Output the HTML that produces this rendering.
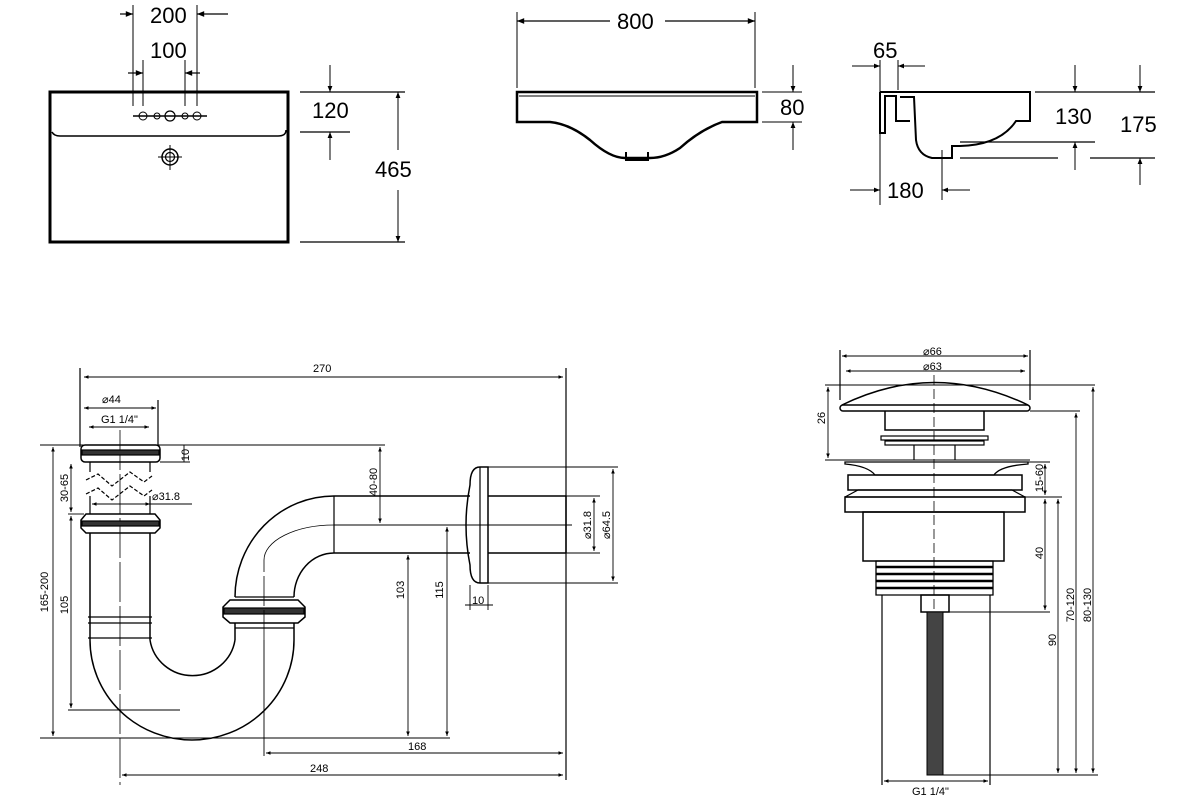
<!DOCTYPE html>
<html><head><meta charset="utf-8"><style>
html,body{margin:0;padding:0;background:#fff;}
svg{display:block;font-family:"Liberation Sans",sans-serif;}
</style></head><body>
<svg width="1200" height="800" viewBox="0 0 1200 800" xmlns="http://www.w3.org/2000/svg">
<defs>
<marker id="a" viewBox="0 0 10 10" refX="10" refY="5" markerWidth="8" markerHeight="6" orient="auto-start-reverse"><path d="M0,1 L10,5 L0,9 z" fill="#000"/></marker>
<marker id="s" viewBox="0 0 10 10" refX="10" refY="5" markerWidth="6" markerHeight="5" orient="auto-start-reverse"><path d="M0,1 L10,5 L0,9 z" fill="#000"/></marker>
</defs>
<!-- ===== TOP LEFT BASIN ===== -->
<g stroke="#000" fill="none">
<rect x="50" y="92" width="238" height="150" stroke-width="3"/>
<path d="M52,132 Q54,136 60,136 L278,136 Q286,136 286,130" stroke-width="1.5"/>
<line x1="133" y1="5" x2="133" y2="106" stroke-width="1"/>
<line x1="197" y1="5" x2="197" y2="106" stroke-width="1"/>
<line x1="143" y1="60" x2="143" y2="106" stroke-width="1"/>
<line x1="185" y1="60" x2="185" y2="106" stroke-width="1"/>
<line x1="120" y1="14" x2="133" y2="14" marker-end="url(#a)" stroke-width="1.2"/>
<line x1="228" y1="14" x2="197" y2="14" marker-end="url(#a)" stroke-width="1.2"/>
<line x1="128" y1="73" x2="143" y2="73" marker-end="url(#a)" stroke-width="1.2"/>
<line x1="200" y1="73" x2="185" y2="73" marker-end="url(#a)" stroke-width="1.2"/>
<line x1="133" y1="116" x2="207" y2="116" stroke-width="1.5"/>
<circle cx="170" cy="116" r="5" stroke-width="1.2"/>
<circle cx="143" cy="116" r="4" stroke-width="1"/><circle cx="157" cy="116" r="3" stroke-width="1"/>
<circle cx="185" cy="116" r="3" stroke-width="1"/><circle cx="197" cy="116" r="4" stroke-width="1"/>
<circle cx="170" cy="157" r="8" stroke-width="1.5"/><circle cx="170" cy="157" r="4.5" stroke-width="1.2"/>
<line x1="170" y1="145" x2="170" y2="170" stroke-width="1"/><line x1="158" y1="157" x2="182" y2="157" stroke-width="1"/>
<line x1="300" y1="92" x2="405" y2="92" stroke-width="1.2"/>
<line x1="300" y1="132" x2="350" y2="132" stroke-width="1.2"/>
<line x1="300" y1="242" x2="405" y2="242" stroke-width="1.2"/>
<line x1="330" y1="65" x2="330" y2="92" marker-end="url(#a)" stroke-width="1"/>
<line x1="330" y1="160" x2="330" y2="132" marker-end="url(#a)" stroke-width="1"/>
<line x1="398" y1="110" x2="398" y2="92" marker-end="url(#a)" stroke-width="1"/>
<line x1="398" y1="150" x2="398" y2="110" stroke-width="1"/>
<line x1="398" y1="190" x2="398" y2="242" marker-end="url(#a)" stroke-width="1"/>
</g>
<g font-size="22" fill="#000">
<text x="150" y="23">200</text><text x="150" y="58">100</text>
<text x="312" y="118">120</text><text x="375" y="177">465</text>
</g>
<!-- ===== TOP MIDDLE BASIN ===== -->
<g stroke="#000" fill="none">
<path d="M517,92 L757,92 L757,122 L722,122 Q700,130 680,148 Q665,158 650,158 L625,158 Q610,158 590,140 Q570,124 550,122 L517,122 Z" stroke-width="2.5"/>
<line x1="519" y1="96" x2="755" y2="96" stroke-width="1"/>
<path d="M626,152 L626,160 L648,160 L648,152" stroke-width="2"/>
<line x1="517" y1="12" x2="517" y2="88" stroke-width="1"/>
<line x1="755" y1="12" x2="755" y2="88" stroke-width="1"/>
<line x1="610" y1="21" x2="517" y2="21" marker-end="url(#a)" stroke-width="1.2"/>
<line x1="665" y1="21" x2="755" y2="21" marker-end="url(#a)" stroke-width="1.2"/>
<line x1="762" y1="92" x2="802" y2="92" stroke-width="1"/>
<line x1="762" y1="122" x2="802" y2="122" stroke-width="1"/>
<line x1="793" y1="65" x2="793" y2="92" marker-end="url(#a)" stroke-width="1"/>
<line x1="793" y1="150" x2="793" y2="122" marker-end="url(#a)" stroke-width="1"/>
</g>
<g font-size="22" fill="#000"><text x="617" y="29">800</text><text x="780" y="115">80</text></g>
<!-- ===== TOP RIGHT SECTION ===== -->
<g stroke="#000" fill="none">
<path d="M880,92 L1030,92 L1030,121 L1016,121 Q1000,145 960,146 L952,146 L952,158 L932,158 Q918,155 916,140 L914,97 L900,97" stroke-width="2"/>
<path d="M880,92 L880,133 L885,133 L885,96 L896,96 L896,121 L910,121" stroke-width="2"/>
<line x1="880" y1="60" x2="880" y2="205" stroke-width="1"/>
<line x1="898" y1="60" x2="898" y2="90" stroke-width="1"/>
<line x1="852" y1="66" x2="880" y2="66" marker-end="url(#a)" stroke-width="1"/>
<line x1="925" y1="66" x2="898" y2="66" marker-end="url(#a)" stroke-width="1"/>
<line x1="1035" y1="92" x2="1155" y2="92" stroke-width="1.2"/>
<line x1="960" y1="142" x2="1095" y2="142" stroke-width="1.2"/>
<line x1="960" y1="158" x2="1058" y2="158" stroke-width="1.2"/>
<line x1="1090" y1="158" x2="1155" y2="158" stroke-width="1.2"/>
<line x1="1075" y1="65" x2="1075" y2="92" marker-end="url(#a)" stroke-width="1"/>
<line x1="1075" y1="170" x2="1075" y2="142" marker-end="url(#a)" stroke-width="1"/>
<line x1="1140" y1="65" x2="1140" y2="92" marker-end="url(#a)" stroke-width="1"/>
<line x1="1140" y1="185" x2="1140" y2="158" marker-end="url(#a)" stroke-width="1"/>
<line x1="850" y1="190" x2="880" y2="190" marker-end="url(#a)" stroke-width="1"/>
<line x1="970" y1="190" x2="942" y2="190" marker-end="url(#a)" stroke-width="1"/>
<line x1="942" y1="150" x2="942" y2="200" stroke-width="1"/>
</g>
<g font-size="22" fill="#000"><text x="873" y="58">65</text><text x="1055" y="124">130</text><text x="1120" y="132">175</text><text x="887" y="198">180</text></g>

<!-- ===== SIPHON ===== -->
<g stroke="#000" fill="none" stroke-width="1.2">
<!-- dimension / extension lines -->
<line x1="80" y1="368" x2="80" y2="447"/>
<line x1="566" y1="368" x2="566" y2="780"/>
<line x1="84" y1="377" x2="563" y2="377" marker-start="url(#s)" marker-end="url(#s)" stroke-width="0.9"/>
<line x1="158" y1="400" x2="158" y2="445"/>
<line x1="84" y1="408" x2="156" y2="408" marker-start="url(#s)" marker-end="url(#s)" stroke-width="0.9"/>
<line x1="89" y1="427" x2="149" y2="427" marker-start="url(#s)" marker-end="url(#s)" stroke-width="0.9"/>
<line x1="40" y1="445" x2="385" y2="445" stroke-width="0.9"/>
<line x1="160" y1="462" x2="190" y2="462" stroke-width="0.9"/>
<line x1="184" y1="445" x2="184" y2="462" stroke-width="0.9"/>
<line x1="92" y1="504" x2="150" y2="504" marker-start="url(#s)" marker-end="url(#s)" stroke-width="0.9"/>
<line x1="150" y1="504" x2="192" y2="504" stroke-width="0.9"/>
<line x1="53" y1="447" x2="53" y2="736" marker-start="url(#s)" marker-end="url(#s)" stroke-width="0.9"/>
<line x1="71" y1="464" x2="71" y2="512" marker-start="url(#s)" marker-end="url(#s)" stroke-width="0.9"/>
<line x1="71" y1="516" x2="71" y2="708" marker-start="url(#s)" marker-end="url(#s)" stroke-width="0.9"/>
<line x1="68" y1="514" x2="84" y2="514" stroke-width="0.9"/>
<line x1="68" y1="710" x2="180" y2="710" stroke-width="0.9"/>
<line x1="40" y1="738" x2="450" y2="738" stroke-width="0.9"/>
<line x1="380" y1="447" x2="380" y2="523" marker-start="url(#s)" marker-end="url(#s)" stroke-width="0.9"/>
<line x1="408" y1="555" x2="408" y2="736" marker-start="url(#s)" marker-end="url(#s)" stroke-width="0.9"/>
<line x1="447" y1="527" x2="447" y2="736" marker-start="url(#s)" marker-end="url(#s)" stroke-width="0.9"/>
<line x1="264" y1="640" x2="264" y2="756" stroke-width="0.9"/>
<line x1="266" y1="753" x2="563" y2="753" marker-start="url(#s)" marker-end="url(#s)" stroke-width="0.9"/>
<line x1="122" y1="775" x2="563" y2="775" marker-start="url(#s)" marker-end="url(#s)" stroke-width="0.9"/>
<line x1="120" y1="430" x2="120" y2="785" stroke-width="0.8" stroke-dasharray="40,4"/>
<line x1="334" y1="525" x2="572" y2="525" stroke-width="0.9"/>
<line x1="488" y1="467" x2="618" y2="467" stroke-width="0.9"/>
<line x1="488" y1="583" x2="618" y2="583" stroke-width="0.9"/>
<line x1="566" y1="496" x2="600" y2="496" stroke-width="0.9"/>
<line x1="566" y1="553" x2="600" y2="553" stroke-width="0.9"/>
<line x1="594" y1="498" x2="594" y2="551" marker-start="url(#s)" marker-end="url(#s)" stroke-width="0.9"/>
<line x1="613" y1="469" x2="613" y2="581" marker-start="url(#s)" marker-end="url(#s)" stroke-width="0.9"/>
<line x1="470" y1="585" x2="470" y2="610" stroke-width="0.9"/>
<line x1="488" y1="585" x2="488" y2="610" stroke-width="0.9"/>
<line x1="465" y1="605" x2="493" y2="605" stroke-width="0.9"/>
<!-- top cap -->
<rect x="81" y="445" width="79" height="17" rx="4" stroke-width="1.5"/>
<rect x="82" y="450" width="77" height="5" fill="#333"/>
<line x1="90" y1="462" x2="90" y2="472"/><line x1="150" y1="462" x2="150" y2="472"/>
<path d="M86,480 L98,474 L112,486 L130,472 L144,482 L152,476" stroke-dasharray="4,2"/>
<path d="M86,494 L98,488 L112,500 L130,486 L144,496 L152,490" stroke-dasharray="4,2"/>
<line x1="90" y1="496" x2="90" y2="514"/><line x1="150" y1="496" x2="150" y2="514"/>
<!-- nut 2 -->
<path d="M86,514 L155,514 L160,520 L160,528 L155,533 L86,533 L81,528 L81,520 Z" stroke-width="1.5"/>
<rect x="82" y="521" width="77" height="5" fill="#333"/>
<line x1="90" y1="533" x2="90" y2="640" stroke-width="1.5"/><line x1="150" y1="533" x2="150" y2="640" stroke-width="1.5"/>
<line x1="88" y1="617" x2="152" y2="617"/><line x1="88" y1="623" x2="152" y2="623"/>
<line x1="88" y1="638" x2="152" y2="638"/>
<!-- J bend -->
<path d="M90,640 A102,100 0 0 0 294,640" stroke-width="1.5"/>
<path d="M150,640 A43,42 0 0 0 235,640" stroke-width="1.5"/>
<line x1="235" y1="623" x2="235" y2="640" stroke-width="1.5"/><line x1="294" y1="623" x2="294" y2="640" stroke-width="1.5"/>
<line x1="235" y1="628" x2="294" y2="628"/>
<!-- nut 3 -->
<path d="M230,600 L298,600 L305,607 L305,617 L298,623 L230,623 L223,617 L223,607 Z" stroke-width="1.5"/>
<rect x="224" y="608" width="80" height="6" fill="#333"/>
<line x1="235" y1="597" x2="294" y2="597"/>
<!-- upper bend -->
<path d="M235,597 A99,101 0 0 1 334,496" stroke-width="1.5"/>
<path d="M294,597 A40,44 0 0 1 334,553" stroke-width="1.5"/>
<line x1="334" y1="496" x2="470" y2="496" stroke-width="1.5"/>
<line x1="334" y1="553" x2="470" y2="553" stroke-width="1.5"/>
<line x1="334" y1="496" x2="334" y2="553"/>
<line x1="264" y1="640" x2="264" y2="560" stroke-width="0.8" stroke-dasharray="30,4"/>
<path d="M264,560 A70,35 0 0 1 334,525" stroke-width="0.8"/>
<!-- flange -->
<path d="M480,467 L488,467 L488,583 L480,583 Q470,583 470,565 Q462,525 470,485 Q470,467 480,467 Z" stroke-width="1.5"/>
<line x1="480" y1="467" x2="480" y2="583"/>
<line x1="488" y1="496" x2="566" y2="496" stroke-width="1.5"/>
<line x1="488" y1="553" x2="566" y2="553" stroke-width="1.5"/>
<line x1="566" y1="496" x2="566" y2="553" stroke-width="1.5"/>
</g>
<g font-size="11" fill="#000">
<text x="313" y="372">270</text>
<text x="102" y="403">⌀44</text>
<text x="101" y="423">G1 1/4"</text>
<text x="152" y="500">⌀31.8</text>
<text x="408" y="750">168</text>
<text x="310" y="772">248</text>
<text transform="translate(189,455) rotate(-90)" text-anchor="middle">10</text>
<text transform="translate(68,488) rotate(-90)" text-anchor="middle">30-65</text>
<text transform="translate(68,605) rotate(-90)" text-anchor="middle">105</text>
<text transform="translate(48,592) rotate(-90)" text-anchor="middle">165-200</text>
<text transform="translate(377,482) rotate(-90)" text-anchor="middle">40-80</text>
<text transform="translate(404,590) rotate(-90)" text-anchor="middle">103</text>
<text transform="translate(443,590) rotate(-90)" text-anchor="middle">115</text>
<text transform="translate(591,525) rotate(-90)" text-anchor="middle">⌀31.8</text>
<text transform="translate(610,525) rotate(-90)" text-anchor="middle">⌀64.5</text>
<text x="472" y="604">10</text>
</g>

<!-- ===== POP-UP DRAIN ===== -->
<g stroke="#000" fill="none" stroke-width="1.2">
<line x1="840" y1="350" x2="840" y2="400"/><line x1="1030" y1="350" x2="1030" y2="400"/>
<line x1="842" y1="356" x2="1028" y2="356" marker-start="url(#s)" marker-end="url(#s)" stroke-width="0.9"/>
<line x1="846" y1="371" x2="1025" y2="371" marker-start="url(#s)" marker-end="url(#s)" stroke-width="0.9"/>
<line x1="934" y1="375" x2="934" y2="610" stroke-width="0.8" stroke-dasharray="10,4"/>
<path d="M842,405 Q934,360 1028,405" stroke-width="1.5"/>
<rect x="840" y="405" width="190" height="6" rx="3" stroke-width="1.5"/>
<path d="M885,411 L885,430 L984,430 L984,411" stroke-width="1.5"/>
<rect x="881" y="436" width="107" height="4"/>
<rect x="885" y="441" width="99" height="4"/>
<line x1="914" y1="445" x2="914" y2="460"/><line x1="955" y1="445" x2="955" y2="460"/>
<line x1="825" y1="385" x2="1095" y2="385" stroke-width="0.9"/>
<line x1="825" y1="460" x2="1030" y2="460" stroke-width="0.9"/>
<line x1="828" y1="387" x2="828" y2="458" marker-start="url(#s)" marker-end="url(#s)" stroke-width="0.9"/>
<path d="M845,462 L1028,462 L1028,464 Q1000,466 994,475 L875,475 Q868,466 845,464 Z" stroke-width="1.3"/>
<rect x="848" y="475" width="174" height="15" stroke-width="1.5"/>
<path d="M858,490 L1012,490 L1025,497 L845,497 Z" stroke-width="1.2"/>
<rect x="845" y="497" width="180" height="15" stroke-width="1.5"/>
<rect x="863" y="512" width="141" height="49" stroke-width="1.5"/>
<path d="M876,561 L993,561 L993,595 L876,595 Z" stroke-width="1.3"/>
<line x1="876" y1="567" x2="993" y2="567" stroke-width="2.5"/>
<line x1="876" y1="574" x2="993" y2="574" stroke-width="2.5"/>
<line x1="876" y1="581" x2="993" y2="581" stroke-width="2.5"/>
<line x1="876" y1="588" x2="993" y2="588" stroke-width="2.5"/>
<rect x="921" y="595" width="28" height="17" stroke-width="1.5"/>
<rect x="927" y="612" width="16" height="163" fill="#444" stroke-width="1"/>
<line x1="882" y1="595" x2="882" y2="785"/><line x1="990" y1="595" x2="990" y2="785"/>
<line x1="884" y1="781" x2="988" y2="781" marker-start="url(#s)" marker-end="url(#s)" stroke-width="0.9"/>
<line x1="1030" y1="411" x2="1080" y2="411" stroke-width="0.9"/>
<line x1="1028" y1="462" x2="1050" y2="462" stroke-width="0.9"/>
<line x1="1025" y1="497" x2="1062" y2="497" stroke-width="0.9"/>
<line x1="949" y1="612" x2="1050" y2="612" stroke-width="0.9"/>
<line x1="943" y1="775" x2="1098" y2="775" stroke-width="0.9"/>
<line x1="1045" y1="464" x2="1045" y2="495" marker-start="url(#s)" marker-end="url(#s)" stroke-width="0.9"/>
<line x1="1045" y1="499" x2="1045" y2="610" marker-start="url(#s)" marker-end="url(#s)" stroke-width="0.9"/>
<line x1="1058" y1="499" x2="1058" y2="773" marker-start="url(#s)" marker-end="url(#s)" stroke-width="0.9"/>
<line x1="1076" y1="413" x2="1076" y2="773" marker-start="url(#s)" marker-end="url(#s)" stroke-width="0.9"/>
<line x1="1093" y1="387" x2="1093" y2="773" marker-start="url(#s)" marker-end="url(#s)" stroke-width="0.9"/>
</g>
<g font-size="11" fill="#000">
<text x="923" y="355">⌀66</text>
<text x="923" y="370">⌀63</text>
<text x="912" y="795">G1 1/4"</text>
<text transform="translate(825,418) rotate(-90)" text-anchor="middle">26</text>
<text transform="translate(1043,478) rotate(-90)" text-anchor="middle">15-60</text>
<text transform="translate(1043,553) rotate(-90)" text-anchor="middle">40</text>
<text transform="translate(1056,640) rotate(-90)" text-anchor="middle">90</text>
<text transform="translate(1074,605) rotate(-90)" text-anchor="middle">70-120</text>
<text transform="translate(1091,605) rotate(-90)" text-anchor="middle">80-130</text>
</g>
</svg>
</body></html>
